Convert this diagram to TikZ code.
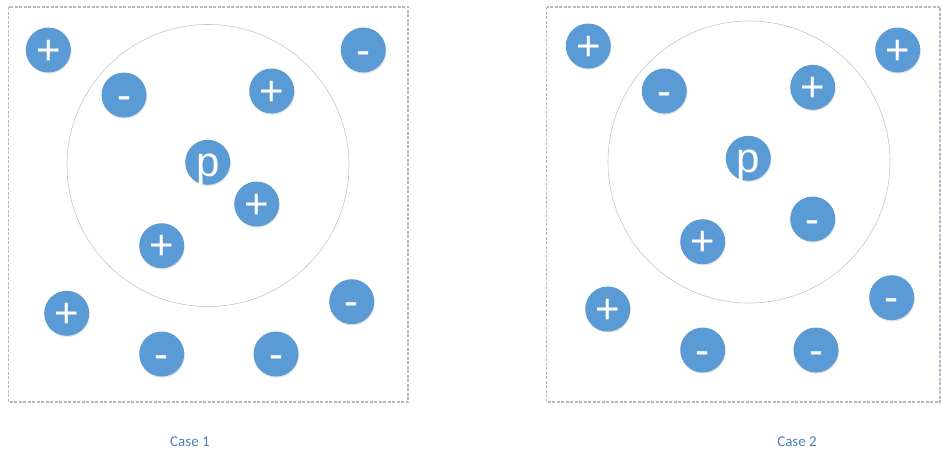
\documentclass[tikz,border=0pt]{standalone}
\usepackage{fontspec}
\setmainfont{Liberation Sans}
\newfontfamily\capfont{Carlito}
\usetikzlibrary{shadows}
\definecolor{ballblue}{HTML}{5B9BD5}
\definecolor{capblue}{HTML}{4A7EBB}
\definecolor{boxgray}{HTML}{B8B8C0}
\definecolor{ringgray}{HTML}{C6C6C6}
\begin{document}
\begin{tikzpicture}[x=1pt,y=-1pt,
  ball/.style={circle,fill=ballblue,minimum size=45pt,inner sep=0pt,text=white,
    font=\fontsize{42}{42}\selectfont,text height=31pt,text depth=3pt,
    drop shadow={shadow xshift=0.6pt,shadow yshift=-1.2pt,opacity=0.22}},
  frame/.style={draw=boxgray,line width=1.1pt,dash pattern=on 3pt off 1.5pt},
  ring/.style={circle,draw=ringgray,line width=0.6pt,inner sep=0pt,minimum size=282pt},
  caption/.style={text=capblue,font=\capfont\fontsize{15}{18}\selectfont}]
\useasboundingbox (0,0) rectangle (941,455);
% Case 1
\draw[frame] (8.5,7) rectangle (408,402);
\node[ring] (ringA) at (208,165.5) {};
\node[ball] (a1) at (48.3,50) {+};
\node[ball] (a2) at (363.3,50) {-};
\node[ball] (a3) at (124,95) {-};
\node[ball] (a4) at (271.7,91) {+};
\node[ball] (ap) at (207.7,162.3) {p};
\node[ball] (a5) at (256.7,204) {+};
\node[ball] (a6) at (161.7,245.7) {+};
\node[ball] (a7) at (66.7,313.3) {+};
\node[ball] (a8) at (351.7,301.7) {-};
\node[ball] (a9) at (161.7,354) {-};
\node[ball] (a10) at (276,354) {-};
\node[caption] (capA) at (190,442) {Case 1};
% Case 2
\draw[frame] (546.5,7) rectangle (940,402);
\node[ring] (ringB) at (749,162) {};
\node[ball] (b1) at (588.3,46) {+};
\node[ball] (b2) at (897.7,50) {+};
\node[ball] (b3) at (664.3,91) {-};
\node[ball] (b4) at (812.7,87.3) {+};
\node[ball] (bp) at (748.3,158.3) {p};
\node[ball] (b5) at (812.7,219) {-};
\node[ball] (b6) at (702.7,241.7) {+};
\node[ball] (b7) at (607.7,309) {+};
\node[ball] (b8) at (891.7,297.7) {-};
\node[ball] (b9) at (702.7,350) {-};
\node[ball] (b10) at (816,350) {-};
\node[caption] (capB) at (797,442) {Case 2};
\end{tikzpicture}
\end{document}
